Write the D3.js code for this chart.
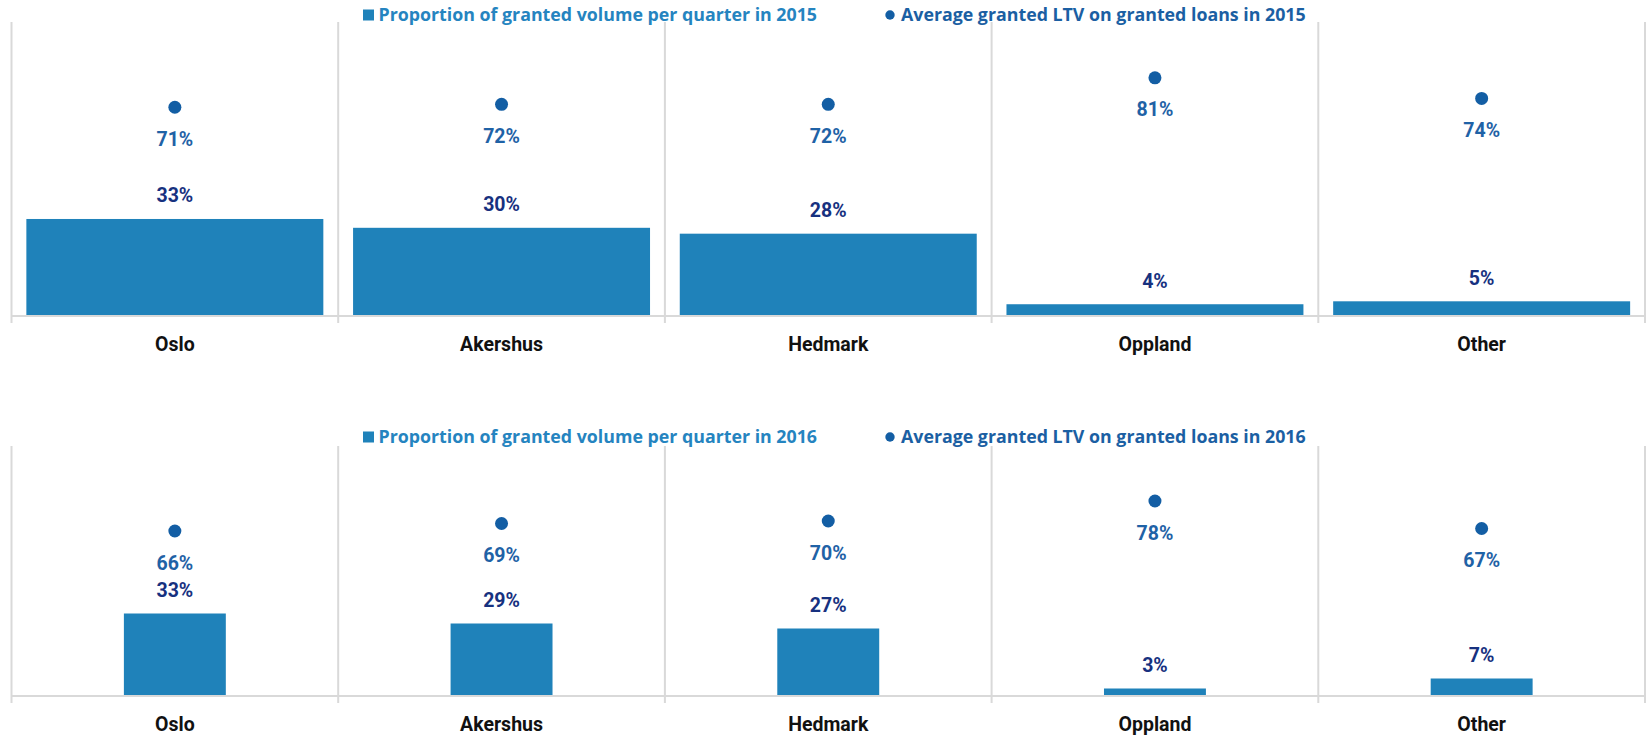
<!DOCTYPE html>
<html>
<head>
<meta charset="utf-8">
<script src="https://cdn.jsdelivr.net/npm/d3@7/dist/d3.min.js"></script>
<style>
  body { margin: 0; background: #fff; }
  svg text { font-family: Roboto, Lato, "Open Sans", sans-serif; font-weight: bold; }
  svg text.legend { font-family: "Open Sans", Roboto, sans-serif; }
</style>
</head>
<body>
<div id="chart"></div>
<script>
// ------------------------------------------------------------
// 1. Data
// ------------------------------------------------------------
const regions = ["Oslo", "Akershus", "Hedmark", "Oppland", "Other"];

const volume2015 = [0.33, 0.30, 0.28, 0.04, 0.05];
const ltv2015 = [0.71, 0.72, 0.72, 0.81, 0.74];

const volume2016 = [0.33, 0.29, 0.27, 0.03, 0.07];
const ltv2016 = [0.66, 0.69, 0.70, 0.78, 0.67];

const barLegend = ["Proportion of granted volume per quarter in 2015", "Proportion of granted volume per quarter in 2016"];
const dotLegend = ["Average granted LTV on granted loans in 2015", "Average granted LTV on granted loans in 2016"];

// ------------------------------------------------------------
// 2. Setup
// ------------------------------------------------------------
const width = 1650;
const height = 735;

const barColor = "#1f82ba";
const dotColor = "#135ea4";
const dotLabelColor = "#1f62a6";
const barLabelColor = "#17317f";
const gridColor = "#d9d9d9";

const svg = d3.select("#chart")
  .append("svg")
  .attr("width", width)
  .attr("height", height);

const pct = d3.format(".0%");

// each panel: where it sits and how wide its bars are
const panels = [
  { volume: volume2015, ltv: ltv2015, top: 22, base: 316, pad: 0.091, legendY: 21, labelY: 351, legend: 0 },
  { volume: volume2016, ltv: ltv2016, top: 446, base: 696, pad: 0.688, legendY: 443, labelY: 731, legend: 1 }
];

panels.forEach(drawPanel);

// ------------------------------------------------------------
// 3. Draw one panel
// ------------------------------------------------------------
function drawPanel(p) {
  const g = svg.append("g");

  const x = d3.scaleBand()
    .domain(regions)
    .range([11.5, 1645])
    .paddingInner(p.pad)
    .paddingOuter(p.pad / 2);

  const y = d3.scaleLinear()
    .domain([0, 1])
    .range([p.base, p.top]);

  const step = x.step();
  const x0 = x.range()[0];

  // vertical separators between categories
  g.selectAll("line.sep")
    .data(d3.range(regions.length + 1))
    .enter()
    .append("line")
    .attr("class", "sep")
    .attr("x1", i => x0 + i * step)
    .attr("x2", i => x0 + i * step)
    .attr("y1", p.top)
    .attr("y2", p.base + 7)
    .attr("stroke", gridColor)
    .attr("stroke-width", 2);

  // baseline
  g.append("line")
    .attr("x1", x0)
    .attr("x2", x0 + step * regions.length)
    .attr("y1", p.base)
    .attr("y2", p.base)
    .attr("stroke", gridColor)
    .attr("stroke-width", 2);

  // bars
  g.selectAll("rect.bar")
    .data(regions)
    .enter()
    .append("rect")
    .attr("class", "bar")
    .attr("x", d => x(d))
    .attr("width", x.bandwidth())
    .attr("y", (d, i) => y(p.volume[i]))
    .attr("height", (d, i) => p.base - 1 - y(p.volume[i]))
    .attr("fill", barColor);

  // bar labels
  g.selectAll("text.barlab")
    .data(regions)
    .enter()
    .append("text")
    .attr("class", "barlab")
    .attr("x", d => x(d) + x.bandwidth() / 2)
    .attr("y", (d, i) => y(p.volume[i]) - 16.5)
    .attr("text-anchor", "middle")
    .attr("font-size", 19.5)
    .attr("fill", barLabelColor)
    .text((d, i) => pct(p.volume[i]));

  // LTV dots
  g.selectAll("circle.dot")
    .data(regions)
    .enter()
    .append("circle")
    .attr("class", "dot")
    .attr("cx", d => x(d) + x.bandwidth() / 2)
    .attr("cy", (d, i) => y(p.ltv[i]))
    .attr("r", 6.5)
    .attr("fill", dotColor);

  g.selectAll("text.dotlab")
    .data(regions)
    .enter()
    .append("text")
    .attr("class", "dotlab")
    .attr("x", d => x(d) + x.bandwidth() / 2)
    .attr("y", (d, i) => y(p.ltv[i]) + 38.5)
    .attr("text-anchor", "middle")
    .attr("font-size", 19.5)
    .attr("fill", dotLabelColor)
    .text((d, i) => pct(p.ltv[i]));

  // category axis
  const axis = g.append("g")
    .attr("transform", `translate(0, ${p.labelY})`)
    .call(d3.axisBottom(x).tickSize(0).tickPadding(0));
  axis.select(".domain").remove();
  axis.selectAll("text")
    .attr("dy", 0)
    .attr("font-size", 19.5)
    .attr("fill", "#111");

  // legend
  const lg = g.append("g");
  lg.append("rect")
    .attr("x", 363)
    .attr("y", p.legendY - 11.5)
    .attr("width", 11)
    .attr("height", 11)
    .attr("fill", barColor);
  lg.append("text")
    .attr("class", "legend")
    .attr("x", 378.5)
    .attr("y", p.legendY)
    .attr("font-size", 17.8)
    .attr("fill", "#2584c0")
    .text(barLegend[p.legend]);
  lg.append("circle")
    .attr("cx", 890)
    .attr("cy", p.legendY - 6)
    .attr("r", 4.7)
    .attr("fill", dotColor);
  lg.append("text")
    .attr("class", "legend")
    .attr("x", 901)
    .attr("y", p.legendY)
    .attr("font-size", 17.8)
    .attr("fill", "#1b5fa3")
    .text(dotLegend[p.legend]);
}
</script>
</body>
</html>
